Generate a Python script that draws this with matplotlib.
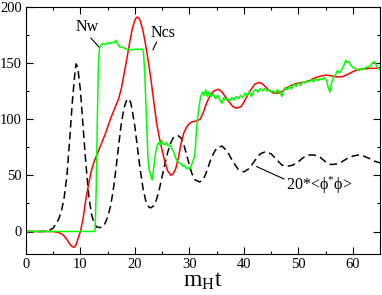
import matplotlib
matplotlib.use("Agg")
import matplotlib.pyplot as plt
from matplotlib.ticker import MultipleLocator

plt.rcParams['font.family'] = ['Liberation Serif', 'DejaVu Serif']
plt.rcParams['mathtext.fontset'] = 'custom'
plt.rcParams['mathtext.rm'] = 'Liberation Serif'
plt.rcParams['mathtext.it'] = 'Liberation Serif:italic'

# 20*<phi* phi>  (black dashed)
t_phi = [0, 3, 4, 5, 6, 6.5, 7, 7.5, 8, 8.5, 9, 9.2, 9.5, 10, 10.5, 11, 11.5, 12, 12.5, 13,
         13.6, 14, 14.5, 15, 15.5, 16, 16.5, 17, 17.5, 18, 18.5, 18.8, 19.2, 19.5, 20, 20.5,
         21, 21.5, 22, 22.5, 22.9, 23.5, 24, 24.5, 25, 25.5, 26, 26.5, 27, 27.5, 28, 28.5,
         29, 29.5, 30, 30.5, 31, 31.9, 32.5, 33, 33.5, 34, 34.5, 35, 36, 37, 38, 39, 40, 41,
         42, 43, 44, 45, 46, 47, 48, 49, 50, 51, 52, 53, 54, 55, 56, 57, 58, 59, 60, 61, 62,
         63, 64, 65]
phi = [0, 0, 0.5, 3, 11, 18, 30, 49, 80, 115, 142, 149, 146, 125, 92, 60, 33, 16, 7, 4,
       3.5, 4, 7, 13, 22, 36, 55, 76, 96, 110, 117, 118, 115, 108, 93, 73,
       54, 38, 27, 22, 21, 23, 29, 38, 49, 60, 70, 78, 83, 85, 85, 83,
       77, 68, 59, 51, 46, 44, 46, 51, 58, 65, 70, 74, 76, 71, 62, 55, 53, 56,
       63, 69, 71, 69, 64, 59, 58, 59, 62, 66, 68, 68, 66, 62, 59.5, 60, 62, 65, 67, 68, 67,
       65, 62.5, 61]

# Ncs (red)
t_ncs = [0, 5, 5.5, 6, 6.5, 7, 7.5, 8, 8.5, 8.8, 9.2, 9.5, 10, 10.5, 11, 11.5, 12, 12.5, 13,
         13.5, 14, 14.5, 15, 15.5, 16, 16.5, 17, 17.5, 18, 18.5, 19, 19.5, 20, 20.3, 20.7, 21,
         21.5, 22, 22.5, 23, 23.5, 24, 24.5, 25, 25.5, 26, 26.6, 27, 27.5, 28, 28.5, 29, 29.5,
         30, 30.5, 31, 31.5, 32, 32.5, 33, 33.5, 34, 34.5, 35.3, 36, 37, 38, 38.6, 39.5, 40,
         41, 42, 42.8, 43.5, 44.5, 45.5, 46.3, 47, 48, 49, 50, 51, 52, 53, 54, 55, 56, 57, 58,
         59, 60, 61, 62, 63, 64, 65]
ncs = [0, 0, -0.5, -1, -2, -4, -7, -11, -13.5, -14, -12, -7, 0, 12, 29, 42, 54, 62, 68,
       74, 80, 86, 93, 100, 106, 112, 118, 127, 140, 153, 167, 180, 188, 190.5, 190, 187,
       178, 165, 150, 133, 114, 96, 83, 72, 62, 54, 50, 51, 56, 66, 79, 88, 93,
       96, 97.5, 98, 98.5, 100, 105, 112, 118, 122, 125, 126.5, 124, 117, 111, 109.6, 111, 115,
       124, 131, 132.5, 131, 126, 123, 123, 124.5, 128, 130.5, 132, 132.5, 134, 136.5, 138,
       139, 138.5, 137.5, 137.5, 139.5, 142, 144, 144.5, 145, 145, 145.5]

# Nw (green)
t_nw = [0, 12.6, 12.7, 12.9, 13.1, 13.3, 13.5, 13.8, 14.2, 14.6, 15, 15.4, 15.8, 16.2, 16.5,
        16.8, 17.2, 17.6, 18, 18.5, 19, 19.5, 20, 20.5, 21, 21.4, 21.6, 21.8, 22, 22.2, 22.4,
        22.6, 22.8, 23.0, 23.2, 23.4, 23.6, 23.8, 24.0, 24.3, 24.6, 24.9, 25.2, 25.5, 25.8,
        26.1, 26.4, 26.7, 27, 27.3, 27.6, 27.9, 28.2, 28.5, 28.8, 29.1, 29.4, 29.7, 30.0,
        30.3, 30.6, 30.9, 31.1, 31.3, 31.5, 31.7, 31.9, 32.1, 32.4, 32.7, 33, 33.3, 33.6, 34,
        34.4, 34.8, 35.2, 35.6, 36, 36.3, 36.6, 37, 37.4, 37.8, 38.2, 38.6, 39, 39.4, 39.8,
        40.2, 40.6, 41, 41.4, 41.8, 42.2, 42.6, 43, 43.4, 43.8, 44.2, 44.6, 45, 45.4, 45.8,
        46.2, 46.6, 47, 47.3, 47.6, 48, 48.4, 48.8, 49.2, 49.6, 50, 50.4, 50.8, 51.2, 51.6,
        52, 52.4, 52.8, 53.2, 53.6, 54, 54.4, 54.8, 55.2, 55.5, 55.8, 56.1, 56.4, 56.8, 57.2,
        57.6, 58, 58.4, 58.7, 59, 59.3, 59.6, 60, 60.4, 60.8, 61.2, 61.6, 62, 62.4, 62.8,
        63.2, 63.6, 64, 64.3, 64.6, 65]
nw = [0, 0, 2, 40, 100, 150, 163, 166, 167, 166, 168, 167, 168, 168, 170,
      167, 164, 164, 163, 162, 161.5, 161.5, 162, 162, 162, 162, 158, 140, 115, 90, 65,
      55, 52, 48, 46, 55, 62, 70, 75, 79, 77, 81, 78, 77, 79,
      76, 77, 74, 72, 68, 64, 62, 61, 60, 58, 59, 56, 57, 55,
      58, 62, 66, 75, 90, 100, 108, 115, 120, 124, 121, 126, 120, 124, 120,
      122, 118, 121, 117, 114, 119, 117, 118, 116, 119, 117, 120, 118, 121, 119,
      123, 121, 124, 120, 125, 126, 124, 127, 125, 127, 125, 126, 124, 125, 123,
      126, 124, 120, 126, 128, 126, 129, 127, 131, 129, 132, 130, 133, 132, 134,
      133, 135, 133, 136, 134, 136, 135, 137, 134, 128, 124, 132, 136, 139, 143,
      141, 144, 148, 152, 150, 151, 148, 146, 145, 144, 143, 145, 144, 146, 146,
      147, 150, 151, 148, 145, 144]

xticks = [0, 10, 20, 30, 40, 50, 60]
yticks = [0, 50, 100, 150, 200]

fig = plt.figure(figsize=(3.82, 2.95), dpi=100)
ax = fig.add_axes([26/382, 41/295, 354/382, 247.5/295])

ax.plot(t_phi, phi, color='black', lw=1.1, dashes=(5, 2.8))
ax.plot(t_ncs, ncs, color='#ff0000', lw=1.1)
ax.plot(t_nw, nw, color='#00ff00', lw=1.1)

ax.set_xlim(0, 65)
ax.set_ylim(-20, 200)
ax.set_xticks(xticks)
ax.set_yticks(yticks)
ax.xaxis.set_minor_locator(MultipleLocator(5))
ax.yaxis.set_minor_locator(MultipleLocator(25))
ax.tick_params(which='both', direction='in', top=True, right=True, labelsize=10.5, width=0.8)
ax.tick_params(which='major', length=5, pad=3)
ax.tick_params(which='minor', length=2.5)
for s in ax.spines.values():
    s.set_linewidth(0.8)

ax.set_xlabel(r'$\mathrm{m_H t}$', fontsize=17, labelpad=0)

line_kw = dict(arrowstyle='-', color='black', lw=0.8, shrinkA=0, shrinkB=0)
ax.text(11.2, 182, 'Nw', fontsize=11.5, ha='center', va='center')
ax.annotate('', xy=(13.4, 164), xytext=(11.9, 172), arrowprops=line_kw)
ax.text(25.1, 176.5, 'Ncs', fontsize=11.5, ha='center', va='center')
ax.annotate('', xy=(23.3, 161.5), xytext=(24.0, 168.5), arrowprops=line_kw)
ax.text(53.9, 40.6, '20*<ϕ$^{*}$ϕ>', fontsize=11.5, ha='center', va='center')
ax.annotate('', xy=(42.3, 57.8), xytext=(47.4, 46.6), arrowprops=line_kw)

fig.savefig('out.png', dpi=100)
